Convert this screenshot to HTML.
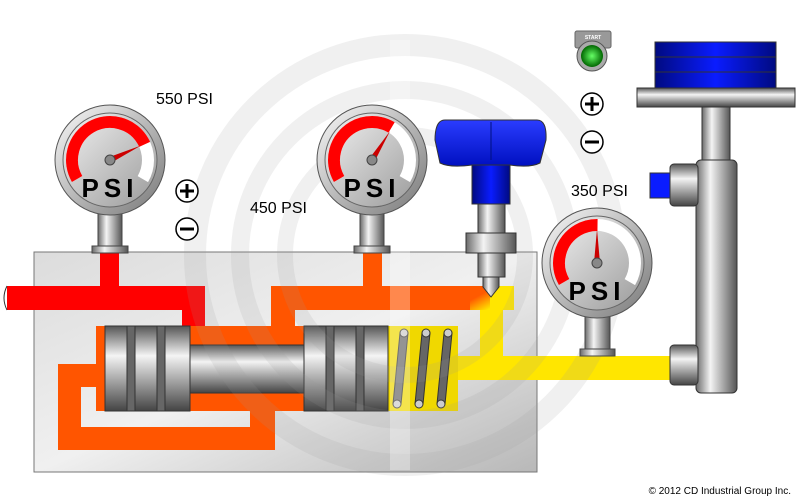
<!DOCTYPE html>
<html><head><meta charset="utf-8"><style>
html,body{margin:0;padding:0;background:#fff;}
svg{display:block;font-family:"Liberation Sans",sans-serif;}
</style></head><body>
<svg width="800" height="500" viewBox="0 0 800 500" xmlns="http://www.w3.org/2000/svg">
<defs>
<linearGradient id="blk" x1="0" y1="0" x2="1" y2="1"><stop offset="0" stop-color="#dcdcdc"/><stop offset="0.5" stop-color="#f0f0f0"/><stop offset="1" stop-color="#b8b8b8"/></linearGradient>
<linearGradient id="cylV" x1="0" y1="0" x2="1" y2="0"><stop offset="0" stop-color="#6a6a6a"/><stop offset="0.35" stop-color="#f4f4f4"/><stop offset="1" stop-color="#555"/></linearGradient>
<linearGradient id="cylH" x1="0" y1="0" x2="0" y2="1"><stop offset="0" stop-color="#555"/><stop offset="0.35" stop-color="#f4f4f4"/><stop offset="1" stop-color="#444"/></linearGradient>
<linearGradient id="blue" x1="0" y1="0" x2="1" y2="0"><stop offset="0" stop-color="#000a80"/><stop offset="0.5" stop-color="#0a1cff"/><stop offset="1" stop-color="#000a80"/></linearGradient>
<linearGradient id="blueK" x1="0" y1="0" x2="0" y2="1"><stop offset="0" stop-color="#2a3cff"/><stop offset="1" stop-color="#0010c0"/></linearGradient>
<linearGradient id="face" x1="0" y1="0" x2="1" y2="1"><stop offset="0" stop-color="#f2f2f2"/><stop offset="1" stop-color="#9a9a9a"/></linearGradient>
<linearGradient id="rim" x1="0" y1="0" x2="1" y2="1"><stop offset="0" stop-color="#fafafa"/><stop offset="1" stop-color="#777"/></linearGradient>
<radialGradient id="grn"><stop offset="0" stop-color="#6f6"/><stop offset="1" stop-color="#060"/></radialGradient>
<linearGradient id="oy" x1="0" y1="0" x2="1" y2="1"><stop offset="0.3" stop-color="#ff5a00"/><stop offset="0.7" stop-color="#ffe600"/></linearGradient>
</defs>

<rect x="34" y="252" width="503" height="220" fill="url(#blk)" stroke="#777"/>

<path d="M7 286 H100 V252 H119 V286 H205 V326 H182 V310 H7 Z" fill="#ff0000"/>
<path d="M271 286 H363 V252 H382 V286 H480 V310 H295 V326 H271 Z" fill="#ff5500"/>
<rect x="470" y="286" width="44" height="24" fill="url(#oy)"/>
<path d="M490 286 H514 V310 H503 V356 H670 V380 H458 V356 H480 V310 H490 Z" fill="#ffe600"/>
<rect x="96" y="326" width="362" height="85" fill="#ff5500"/>
<rect x="388" y="326" width="70" height="85" fill="#f0d800"/>
<path d="M96 364 H58 V450 H275 V411 H250 V427 H81 V387 H96 Z" fill="#ff5500"/>
<path d="M7 286 q-6 12 0 24" fill="none" stroke="#333"/>

<g stroke="#333" stroke-width="1">
<rect x="105" y="326" width="85" height="85" fill="url(#cylH)"/>
<rect x="127" y="326" width="8" height="85" fill="#666"/>
<rect x="157" y="326" width="8" height="85" fill="#666"/>
<rect x="190" y="345" width="114" height="48" fill="url(#cylH)"/>
<rect x="304" y="326" width="84" height="85" fill="url(#cylH)"/>
<rect x="326" y="326" width="8" height="85" fill="#666"/>
<rect x="356" y="326" width="8" height="85" fill="#666"/>
</g>
<g stroke="#333" stroke-width="1" fill="#666">
<path d="M400 333 L393 404 L401 404 L408 333 Z"/>
<path d="M422 333 L415 404 L423 404 L430 333 Z"/>
<path d="M444 333 L437 404 L445 404 L452 333 Z"/>
<circle cx="404" cy="333" r="4" fill="#ccc"/><circle cx="426" cy="333" r="4" fill="#ccc"/><circle cx="448" cy="333" r="4" fill="#ccc"/>
<circle cx="397" cy="404" r="4" fill="#ccc"/><circle cx="419" cy="404" r="4" fill="#ccc"/><circle cx="441" cy="404" r="4" fill="#ccc"/>
</g>

<g fill="none" stroke="#999" stroke-opacity="0.15">
<circle cx="405" cy="255" r="210" stroke-width="22"/>
<circle cx="405" cy="255" r="165" stroke-width="18"/>
<circle cx="405" cy="255" r="120" stroke-width="16"/>
</g>
<line x1="400" y1="40" x2="400" y2="470" stroke-width="20" stroke="#fff" stroke-opacity="0.3"/>

<g stroke="#444">
<rect x="98" y="210" width="24" height="38" fill="url(#cylV)"/><rect x="92" y="246" width="36" height="7" fill="url(#cylV)"/>
<rect x="360" y="210" width="24" height="38" fill="url(#cylV)"/><rect x="354" y="246" width="36" height="7" fill="url(#cylV)"/>
<rect x="585" y="315" width="25" height="37" fill="url(#cylV)"/><rect x="580" y="349" width="35" height="7" fill="url(#cylV)"/>
</g>

<g transform="translate(110,160)">
<circle r="55" fill="url(#rim)" stroke="#555"/><circle r="47" fill="url(#face)" stroke="#666"/>
<circle r="38" fill="none" stroke="#fff" stroke-width="12" stroke-dasharray="159 300" transform="rotate(150)"/>
<circle r="38" fill="none" stroke="#f00" stroke-width="12" stroke-dasharray="123 300" transform="rotate(150)"/>
<polygon points="0,-3 34,0 0,3" fill="#c00" transform="rotate(-25)"/><circle r="5" fill="#888" stroke="#444"/>
<text x="0" y="37" text-anchor="middle" font-size="26" font-weight="bold" letter-spacing="5">PSI</text>
</g>
<g transform="translate(372,160)">
<circle r="55" fill="url(#rim)" stroke="#555"/><circle r="47" fill="url(#face)" stroke="#666"/>
<circle r="38" fill="none" stroke="#fff" stroke-width="12" stroke-dasharray="159 300" transform="rotate(150)"/>
<circle r="38" fill="none" stroke="#f00" stroke-width="12" stroke-dasharray="100 300" transform="rotate(150)"/>
<polygon points="0,-3 34,0 0,3" fill="#c00" transform="rotate(-58)"/><circle r="5" fill="#888" stroke="#444"/>
<text x="0" y="37" text-anchor="middle" font-size="26" font-weight="bold" letter-spacing="5">PSI</text>
</g>
<g transform="translate(597,263)">
<circle r="55" fill="url(#rim)" stroke="#555"/><circle r="47" fill="url(#face)" stroke="#666"/>
<circle r="38" fill="none" stroke="#fff" stroke-width="12" stroke-dasharray="159 300" transform="rotate(150)"/>
<circle r="38" fill="none" stroke="#f00" stroke-width="12" stroke-dasharray="80 300" transform="rotate(150)"/>
<polygon points="0,-3 34,0 0,3" fill="#c00" transform="rotate(-90)"/><circle r="5" fill="#888" stroke="#444"/>
<text x="0" y="37" text-anchor="middle" font-size="26" font-weight="bold" letter-spacing="5">PSI</text>
</g>

<g stroke="#333">
<rect x="478" y="203" width="27" height="30" fill="url(#cylV)"/>
<rect x="466" y="233" width="50" height="20" fill="url(#cylV)"/>
<rect x="478" y="253" width="27" height="24" fill="url(#cylV)"/>
<path d="M483 277 H499 V287 L491 297 L483 287 Z" fill="url(#cylV)"/>
<rect x="472" y="160" width="38" height="44" fill="url(#blue)"/>
<path d="M445 120 H537 Q547 120 546 140 L540 163 Q530 168 510 165 H472 Q450 168 440 163 L435 140 Q435 120 445 120 Z" fill="url(#blueK)"/>
<path d="M491 122 V160" stroke="#001080"/>
</g>

<g stroke="#333">
<rect x="702" y="107" width="28" height="55" fill="url(#cylV)"/>
<rect x="696" y="160" width="41" height="233" rx="5" fill="url(#cylV)"/>
<rect x="637" y="88" width="158" height="19" fill="url(#cylH)"/>
<rect x="655" y="42" width="121" height="46" fill="url(#blue)"/>
<line x1="655" y1="57" x2="776" y2="57"/><line x1="655" y1="72" x2="776" y2="72"/>
<rect x="650" y="173" width="22" height="25" fill="#0a1cff"/>
<rect x="670" y="164" width="28" height="42" rx="4" fill="url(#cylH)"/>
<rect x="670" y="345" width="28" height="40" rx="4" fill="url(#cylH)"/>
</g>

<rect x="575" y="31" width="36" height="17" rx="2" fill="#999" stroke="#666"/>
<text x="593" y="39" font-size="5" font-weight="bold" fill="#fff" text-anchor="middle">START</text>
<circle cx="592" cy="56" r="15" fill="#aaa" stroke="#555"/><circle cx="592" cy="56" r="11" fill="url(#grn)"/>

<g fill="#fff" stroke="#000" stroke-width="1.5">
<circle cx="187" cy="191" r="11"/><circle cx="187" cy="229" r="11"/>
<circle cx="592" cy="104" r="11"/><circle cx="592" cy="142" r="11"/>
</g>
<g stroke="#000" stroke-width="3">
<path d="M180 191 H194 M187 184 V198 M180 229 H194 M585 104 H599 M592 97 V111 M585 142 H599"/>
</g>

<text x="156" y="104" font-size="16">550 PSI</text>
<text x="250" y="213" font-size="16">450 PSI</text>
<text x="571" y="196" font-size="16">350 PSI</text>
<text x="791" y="494" font-size="10" text-anchor="end">© 2012 CD Industrial Group Inc.</text>
</svg>
</body></html>
